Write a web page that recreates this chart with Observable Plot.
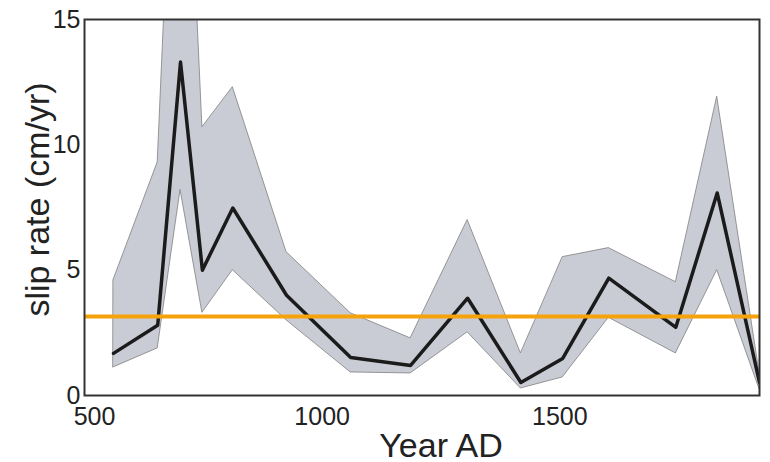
<!DOCTYPE html>
<html>
<head>
<meta charset="utf-8">
<script src="https://cdn.jsdelivr.net/npm/d3@7"></script>
<script src="https://cdn.jsdelivr.net/npm/@observablehq/plot@0.6"></script>
<style>
  html, body { margin: 0; padding: 0; background: #fff; }
  #chart svg { display: block; }
</style>
</head>
<body>
<div id="chart"></div>
<script>
// Data
const years = [561, 654, 702, 748, 812, 925, 1060, 1186, 1306, 1418, 1506, 1603, 1744, 1831, 1920];
const slipRate = [1.68, 2.8, 13.3, 5.0, 7.48, 4.0, 1.52, 1.2, 3.88, 0.52, 1.48, 4.68, 2.72, 8.08, 0.52];
const lowerBound = [1.12, 1.88, 8.2, 3.3, 5.0, 3.0, 0.92, 0.88, 2.52, 0.28, 0.72, 3.1, 1.68, 5.0, 0.25];
const upperBound = [4.6, 9.3, 30, 10.7, 12.3, 5.72, 3.28, 2.28, 7.0, 1.68, 5.52, 5.88, 4.52, 11.92, 0.9];
const meanRate = [3.15];
const xTicksFirst = [500];
const xTicksRest = [1000, 1500];
const yTicks = [0, 5, 10, 15];
const xLabel = "Year AD";
const yLabel = "slip rate (cm/yr)";

const data = years.map((y, i) => ({year: y, v: slipRate[i], lo: lowerBound[i], hi: upperBound[i]}));

const font = "'Liberation Sans', Arial, Helvetica, sans-serif";
const fmt = d => String(d);

const chart = Plot.plot({
  width: 770,
  height: 462,
  marginLeft: 84,
  marginRight: 11,
  marginTop: 19,
  marginBottom: 67,
  style: {fontFamily: font, color: "#222", background: "#fff"},
  x: {domain: [500, 1920]},
  y: {domain: [0, 15]},
  marks: [
    Plot.areaY(data, {x: "year", y1: "lo", y2: "hi", fill: "#c9ccd4", stroke: "#808080", strokeWidth: 0.8, clip: true}),
    Plot.lineY(data, {x: "year", y: "v", stroke: "#1b1b1b", strokeWidth: 3.5, clip: true}),
    Plot.ruleY(meanRate, {stroke: "#f6a20b", strokeWidth: 4}),
    Plot.frame({stroke: "#333", strokeWidth: 2}),
    Plot.axisY(yTicks, {tickSize: 0, tickPadding: 4, fontSize: 25, label: null, tickFormat: fmt}),
    Plot.axisX(xTicksFirst, {tickSize: 0, tickPadding: 12, fontSize: 25, dx: 10, label: null, tickFormat: fmt}),
    Plot.axisX(xTicksRest, {tickSize: 0, tickPadding: 12, fontSize: 25, label: null, tickFormat: fmt}),
    Plot.text([xLabel], {frameAnchor: "bottom", textAnchor: "middle", dx: 19, dy: 61, lineAnchor: "bottom", fontSize: 34, fill: "#222"}),
    Plot.text([yLabel], {frameAnchor: "left", textAnchor: "middle", rotate: -90, dx: -46, dy: -8, lineAnchor: "middle", fontSize: 34, fill: "#222"})
  ]
});

document.getElementById("chart").appendChild(chart);
</script>
</body>
</html>
